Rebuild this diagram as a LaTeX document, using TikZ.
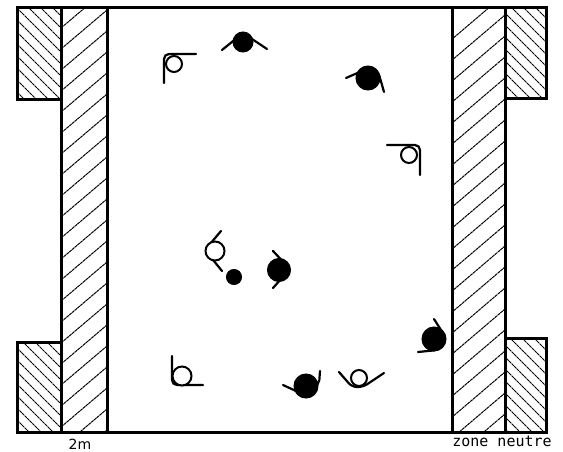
\documentclass[tikz,border=0pt]{standalone}
\usepackage{fontspec}
\setmainfont{DejaVu Sans}
\newfontfamily\labelmono{DejaVu Sans Mono}
\tikzset{
  frame/.style={line width=3pt,black,line cap=rect},
  hatchline/.style={line width=1pt,black,densely dotted,dash pattern=on 3pt off 0.6pt},
  arm/.style={line width=2.2pt,black,line cap=round,line join=round,rounded corners=5pt},
  openp/.style={circle,draw=black,fill=white,line width=2pt,inner sep=0pt},
  blackp/.style={circle,draw=black,fill=black,line width=1pt,inner sep=0pt},
  lbl/.style={inner sep=0pt,font=\fontsize{14}{14}\selectfont,anchor=center}
}
\begin{document}
\begin{tikzpicture}[x=1pt,y=-1pt]
\useasboundingbox (0,0) rectangle (563,452);
\fill[white] (0,0) rectangle (563,452);
% left wide hatch
\begin{scope}
\clip (61,8) rectangle (107,432);
\foreach \y in {28,49,...,490} \draw[hatchline] (61,\y) -- (107,\y-39);
\end{scope}
\begin{scope}
\clip (451,8) rectangle (505,432);
\foreach \y in {40,61,...,520} \draw[hatchline] (451,\y) -- (505,\y-46);
\end{scope}
% tight hatch boxes
\begin{scope}
\clip (17,8) rectangle (61,100);
\foreach \y in {-40,-28,...,100} \draw[hatchline] (17,\y) -- (61,\y+44);
\end{scope}
\begin{scope}
\clip (17,342) rectangle (61,432);
\foreach \y in {300,312,...,440} \draw[hatchline] (17,\y) -- (61,\y+44);
\end{scope}
\begin{scope}
\clip (504,8) rectangle (546,99);
\foreach \y in {-36,-24,...,100} \draw[hatchline] (504,\y) -- (546,\y+42);
\end{scope}
\begin{scope}
\clip (504,338) rectangle (546,432);
\foreach \y in {296,308,...,440} \draw[hatchline] (504,\y) -- (546,\y+42);
\end{scope}
% frames
\draw[frame] (17,8) -- (546,8);
\draw[frame] (17,432) -- (546,432);
\draw[frame] (61,8) -- (61,432);
\draw[frame] (107,8) -- (107,432);
\draw[frame] (452,8) -- (452,432);
\draw[frame] (505,8) -- (505,432);
\draw[frame] (61,100) -- (17,100) -- (17,8);
\draw[frame] (61,342) -- (17,342) -- (17,432);
\draw[frame] (505,99) -- (546,99) -- (546,8);
\draw[frame] (505,338) -- (546,338) -- (546,432);
% players
\draw[arm] (196,54) -- (164,54) -- (164,83);
\node[openp,minimum size=16pt] (p1) at (174,64) {};
\draw[arm] (222,50) -- (243,33) -- (267,49);
\node[blackp,minimum size=20pt] (p2) at (243,42) {};
\draw[arm] (346,78) -- (362,71) -- (378,71) -- (384,92);
\node[blackp,minimum size=24pt] (p3) at (368,78) {};
\draw[arm] (387,145) -- (420,145) -- (420,175);
\node[openp,minimum size=16pt] (p4) at (409,155) {};
\draw[arm] (221,231) -- (205,250) -- (222,271);
\node[openp,minimum size=19pt] (p5) at (215,251) {};
\node[blackp,minimum size=15pt] (ball) at (234,277) {};
\draw[arm] (273,251) -- (290,269) -- (273,288);
\node[blackp,minimum size=23pt] (p7) at (279,270) {};
\draw[arm] (172,356) -- (172,385) -- (203,385);
\node[openp,minimum size=19pt] (p8) at (182,376) {};
\draw[arm] (283,385) -- (296,391);
\draw[arm] (320,371) -- (319,385) -- (310,388);
\node[blackp,minimum size=24pt] (p9) at (306,386) {};
\draw[arm] (339,372) -- (352,387) -- (363,387) -- (384,373);
\node[openp,minimum size=16pt] (p10) at (359,378) {};
\draw[arm] (434,319) -- (446,338) -- (438,350) -- (418,352);
\node[blackp,minimum size=24pt] (p11) at (434,339) {};
% labels
\node[lbl] (l2m) at (80,444) {2m};
\node[lbl,font=\labelmono\fontsize{15}{15}\selectfont] (lzn) at (502,441) {zone neutre};
\end{tikzpicture}
\end{document}
